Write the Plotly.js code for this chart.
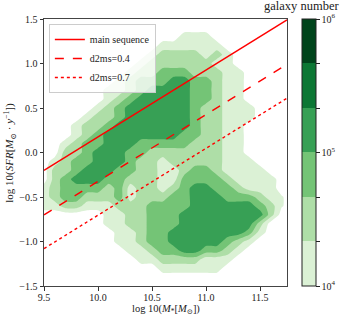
<!DOCTYPE html>
<html><head><meta charset="utf-8">
<script src="https://cdn.plot.ly/plotly-3.0.1.min.js"></script>
<style>html,body{margin:0;padding:0;background:#fff}#chart{width:349px;height:315px}</style>
</head><body><div id="chart"></div>
<script>
// grid of stellar mass (x) and SFR (y) bins
const logMass = [9.5,9.6,9.7,9.8,9.9,10.0,10.1,10.2,10.3,10.4,10.5,10.6,10.7,10.8,10.9,11.0,11.1,11.2,11.3,11.4,11.5,11.6,11.7,11.8];
const logSFR = [1.5,1.4,1.3,1.2,1.1,1.0,0.9,0.8,0.7,0.6,0.5,0.4,0.3,0.2,0.1,0.0,-0.1,-0.2,-0.3,-0.4,-0.5,-0.6,-0.7,-0.8,-0.9,-1.0,-1.1,-1.2,-1.3,-1.4,-1.5];
// galaxy-number band (0: <1e4, k: 10^(4+(k-1)/3) .. 10^(4+k/3))
const densityBand = [
[0,0,0,0,0,0,0,0,0,0,0,0,0,0,0,0,0,0,0,0,0,0,0,0],
[0,0,0,0,0,0,0,0,0,0,0,0,0,0,0,0,0,0,0,0,0,0,0,0],
[0,0,0,0,0,0,0,0,0,0,0,0,0,1,1,1,0,0,0,0,0,0,0,0],
[0,0,0,0,0,0,0,0,0,0,0,1,1,1,1,1,1,0,0,0,0,0,0,0],
[0,0,0,0,0,0,0,0,0,0,1,2,2,2,2,1,2,1,0,0,0,0,0,0],
[0,0,0,0,0,0,0,0,0,1,2,2,2,2,2,2,1,1,0,0,0,0,0,0],
[0,0,0,0,0,0,0,0,1,2,2,3,3,3,2,2,2,1,1,0,0,0,0,0],
[0,0,0,0,0,0,0,1,2,3,3,3,4,4,3,3,2,1,1,0,0,0,0,0],
[0,0,0,0,0,0,1,1,2,3,4,4,4,4,3,3,2,1,1,0,0,0,0,0],
[0,0,0,0,0,0,1,2,3,4,4,4,4,4,3,3,2,1,1,0,0,0,0,0],
[0,0,0,0,0,1,2,3,4,4,4,4,4,4,3,2,2,1,1,1,0,0,0,0],
[0,0,0,0,1,2,2,3,4,4,4,4,4,4,3,2,2,1,1,1,0,0,0,0],
[0,0,0,1,2,2,3,4,4,4,4,4,4,4,3,2,2,1,1,0,0,0,0,0],
[0,0,0,1,2,3,4,4,4,4,4,4,4,3,3,2,2,1,1,0,0,0,0,0],
[0,0,1,2,3,3,4,4,4,3,3,3,3,3,2,2,2,1,1,0,0,0,0,0],
[0,0,2,2,3,4,4,4,3,3,2,2,2,2,2,2,2,1,1,0,0,0,0,0],
[0,1,2,3,3,4,4,4,3,2,2,1,2,2,2,2,2,1,1,1,0,0,0,0],
[0,2,2,3,4,4,4,3,3,2,2,1,1,2,3,3,2,1,1,1,1,0,0,0],
[0,2,3,4,4,4,3,3,2,2,2,1,1,3,3,3,3,2,1,1,1,1,0,0],
[1,2,3,3,3,3,2,3,1,2,2,1,2,3,4,4,3,3,2,1,1,1,0,0],
[1,2,3,3,2,2,2,3,1,2,2,2,3,3,4,4,4,3,3,3,2,1,0.6,0],
[1,1,2,2,1,1,1,2,2,2,3,3,3,3,4,4,4,4,4,4,3,2,0.6,0],
[0,0,0,0,0,0,1,1,2,2,3,3,3,4,4,4,4,4,4,4,4,2,0,0],
[0,0,0,0,0,0,1,1,2,2,3,3,3,4,4,4,4,4,4,4,2,0,0,0],
[0,0,0,0,0,0,0,1,1,2,3,3,4,4,4,4,4,4,4,3,1,0,0,0],
[0,0,0,0,0,0,0,1,1,2,3,3,4,4,4,4,4,3,2,1,0,0,0,0],
[0,0,0,0,0,0,0,0,1,1,2,3,3,4,4,3,3,2,1,0,0,0,0,0],
[0,0,0,0,0,0,0,0,0,1,1,2,2,2,2,1,1,1,0,0,0,0,0,0],
[0,0,0,0,0,0,0,0,0,0,0,1,1,1,1,1,1,0,0,0,0,0,0,0],
[0,0,0,0,0,0,0,0,0,0,0,0,0,0,0,0,0,0,0,0,0,0,0,0],
[0,0,0,0,0,0,0,0,0,0,0,0,0,0,0,0,0,0,0,0,0,0,0,0]
];
// reference lines
const lineMass = [9.5, 11.75];
const msSFR = [-0.20, 1.49];
const d04SFR = [-0.70, 0.99];
const d07SFR = [-1.08, 0.61];
// colorbar
const cbTickVals = [0,1,2,3,4,5,6];
const cbTickText = ['10<sup>4</sup>','','','10<sup>5</sup>','','','10<sup>6</sup>'];
const bandColors = ['#ffffff','#dbf1d5','#aedea7','#74c476','#37a055','#0c7734','#00441b'];

const zGrid = densityBand.map(r => r.map(b => b - 0.5));
const cscale = bandColors.map((c,i) => [i/7, c]);
cscale.push([1, bandColors[6]]);
// stepped scale for the colorbar (6 bands between 1e4 and 1e6)
const barScale = [];
for (let k = 1; k <= 6; k++) { barScale.push([(k-1)/6, bandColors[k]]); barScale.push([k/6, bandColors[k]]); }

const serif = '"Liberation Serif", "DejaVu Serif", serif';

const traces = [
  {type:'contour', x: logMass, y: logSFR, z: zGrid, showlegend:false, hoverinfo:'skip', showscale:false,
   autocontour:false, contours:{start:0, end:6, size:1, coloring:'fill', showlines:false},
   line:{width:0, smoothing:0.6}, colorscale: cscale},
  {type:'scatter', mode:'markers', x:[9.0], y:[0], showlegend:false, hoverinfo:'skip',
   marker:{size:1, opacity:0, color:[0], cmin:0, cmax:6, colorscale: barScale, showscale:true,
     colorbar:{x:1.0618, xanchor:'left', xpad:0, y:0.5, yanchor:'middle', ypad:0, len:1, thickness:14,
     outlinewidth:1, outlinecolor:'#222', tickmode:'array', tickvals:cbTickVals, ticktext:cbTickText,
     ticks:'outside', ticklen:3.5, tickcolor:'#222', tickfont:{family:serif, size:10, color:'#222'}}}},
  {type:'scatter', mode:'lines', x: lineMass, y: msSFR, name:'main sequence', line:{color:'#ff0000', width:1.4}},
  {type:'scatter', mode:'lines', x: lineMass, y: d04SFR, name:'d2ms=0.4', line:{color:'#ff0000', width:1.4, dash:'dash'}},
  {type:'scatter', mode:'lines', x: lineMass, y: d07SFR, name:'d2ms=0.7', line:{color:'#ff0000', width:1.4, dash:'dot'}}
];

const axisCommon = {showgrid:false, zeroline:false, showline:true, linecolor:'#444', linewidth:1, mirror:true,
  ticks:'outside', ticklen:3.5, tickcolor:'#333', tickfont:{family:serif, size:10, color:'#222'}, tickformat:'.1f'};

const layout = {
  width:349, height:315, margin:{l:44, r:54, t:19, b:29}, paper_bgcolor:'#fff', plot_bgcolor:'#fff',
  font:{family:serif, color:'#222'},
  xaxis: Object.assign({}, axisCommon, {range:[9.5, 11.75], tick0:9.5, dtick:0.5, ticklabelstandoff:-2}),
  yaxis: Object.assign({}, axisCommon, {range:[-1.5, 1.5], dtick:0.5}),
  legend:{x:0.02, y:0.981, xanchor:'left', yanchor:'top', bgcolor:'rgba(255,255,255,0.8)', bordercolor:'#cccccc', borderwidth:1,
    font:{family:serif, size:10, color:'#222'}},
  annotations:[
    {text:'galaxy number', xref:'paper', yref:'paper', x:1.0597, y:1.048, xanchor:'center', yanchor:'middle',
     showarrow:false, font:{family:serif, size:12.5, color:'#222'}},
    {text:'log 10(<i>M</i><sub>*</sub>[<i>M</i><sub>⊙</sub>])', xref:'paper', yref:'paper', x:0.5, y:-0.088,
     xanchor:'center', yanchor:'middle', showarrow:false, font:{family:serif, size:10.5, color:'#222'}},
    {text:'log 10(<i>SFR</i>[<i>M</i><sub>⊙</sub> · <i>y</i><sup>−1</sup>])', xref:'paper', yref:'paper', x:-0.143, y:0.5,
     xanchor:'center', yanchor:'middle', textangle:-90, showarrow:false, font:{family:serif, size:11, color:'#222'}}
  ]
};

Plotly.newPlot('chart', traces, layout, {displayModeBar:false, staticPlot:true});
</script></body></html>
